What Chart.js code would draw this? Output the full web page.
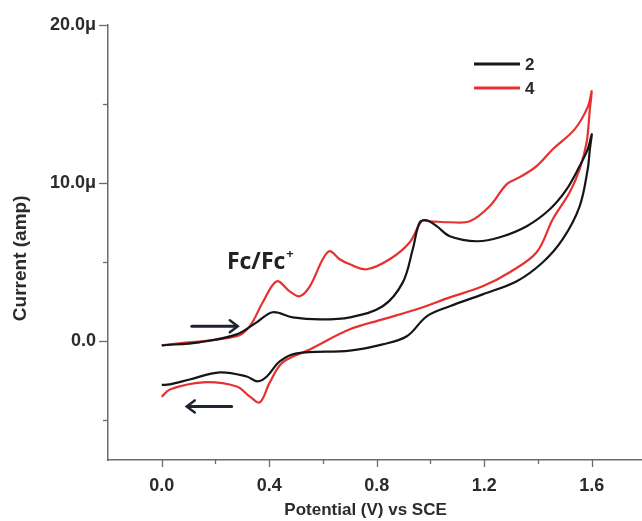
<!DOCTYPE html>
<html>
<head>
<meta charset="utf-8">
<script src="https://cdn.jsdelivr.net/npm/chart.js@4.4.1/dist/chart.umd.min.js"></script>
<style>
  html, body { margin: 0; padding: 0; background: #ffffff; }
  #wrap { width: 642px; height: 521px; }
</style>
</head>
<body>
<div id="wrap"><canvas id="c" width="642" height="521"></canvas></div>
<script>
// ---- Data (potential V vs SCE, current in µA) ----
const seriesLabels = ["2", "4"];
const seriesColors = ["#161616", "#e5312f"];

// Sample 2 (black): forward scan 0 -> 1.6 V, then reverse 1.6 -> 0 V
const scan2 = [
  [0.000,-0.25],[0.141,-0.06],[0.279,0.44],[0.353,1.20],[0.413,1.84],[0.487,1.52],
  [0.588,1.39],[0.700,1.52],[0.822,2.22],[0.897,3.73],[0.934,5.82],[0.960,7.53],
  [0.986,7.66],[1.023,7.28],[1.072,6.65],[1.172,6.33],[1.258,6.58],[1.358,7.28],
  [1.444,8.35],[1.507,9.62],[1.555,11.08],[1.585,12.15],[1.600,13.10],
  [1.593,12.15],[1.585,10.89],[1.555,8.54],[1.492,6.46],[1.418,5.00],[1.321,3.80],
  [1.194,2.97],[1.072,2.22],[0.986,1.58],[0.912,0.32],[0.822,-0.19],[0.700,-0.58],
  [0.502,-0.76],[0.439,-1.27],[0.391,-2.22],[0.357,-2.53],[0.316,-2.22],[0.216,-1.96],
  [0.104,-2.41],[0.030,-2.72],[0.000,-2.75]
];

// Sample 4 (red)
const scan4 = [
  [0.000,-0.25],[0.030,-0.19],[0.279,0.32],[0.327,0.95],[0.376,2.47],[0.428,3.80],
  [0.476,3.16],[0.513,2.85],[0.551,3.48],[0.599,5.19],[0.625,5.70],[0.662,5.19],
  [0.700,4.87],[0.763,4.56],[0.848,5.19],[0.923,6.27],[0.967,7.59],[0.997,7.59],
  [1.072,7.53],[1.146,7.59],[1.220,8.54],[1.284,9.94],[1.332,10.38],[1.395,11.08],
  [1.455,12.15],[1.537,13.42],[1.585,14.81],[1.600,15.82],
  [1.593,14.68],[1.581,12.59],[1.555,10.89],[1.518,9.43],[1.455,7.72],[1.395,5.63],
  [1.295,4.37],[1.194,3.48],[1.072,2.78],[0.949,2.03],[0.822,1.39],[0.700,0.76],
  [0.551,-0.51],[0.450,-1.33],[0.402,-2.59],[0.365,-3.86],[0.327,-3.48],[0.279,-2.85],
  [0.153,-2.59],[0.030,-3.04],[0.000,-3.50]
];

// Axis ticks
const xMajorTicks = [0.0, 0.4, 0.8, 1.2, 1.6];
const xMinorTicks = [0.2, 0.6, 1.0, 1.4];
const yMajorTicks = [0, 10, 20];
const yMinorTicks = [-5, 5, 15];
const xRange = [-0.2, 1.787];
const yRange = [-7.5, 20];

// Annotations: scan direction arrows [x0, x1, y] and peak label
const arrowForward = [0.112, 0.283, 0.95];
const arrowReverse = [0.260, 0.093, -4.11];
const peakLabel = { text: "Fc/Fc", sup: "+", x: 0.365, y: 5.0 };

// ---- Chart ----
const AXIS_COLOR = "#6b6b6b";
const TEXT_COLOR = "#2b2b2b";
const FONT = "'Liberation Sans', Arial, sans-serif";

const fmtY = v => (v === 0 ? "0.0" : v.toFixed(1) + "\u03bc");
const fmtX = v => v.toFixed(1);

const extras = {
  id: "extras",
  afterDraw(chart) {
    const ctx = chart.ctx;
    const xs = chart.scales.x, ys = chart.scales.y;
    ctx.save();
    // tick marks
    ctx.strokeStyle = AXIS_COLOR;
    ctx.lineWidth = 1.3;
    const drawXT = (v, len) => {
      const px = Math.round(xs.getPixelForValue(v)) + 0.5;
      ctx.beginPath(); ctx.moveTo(px, ys.bottom); ctx.lineTo(px, ys.bottom + len); ctx.stroke();
    };
    const drawYT = (v, len) => {
      const py = Math.round(ys.getPixelForValue(v)) + 0.5;
      ctx.beginPath(); ctx.moveTo(xs.left, py); ctx.lineTo(xs.left - len, py); ctx.stroke();
    };
    xMajorTicks.forEach(v => drawXT(v, 7));
    xMinorTicks.forEach(v => drawXT(v, 4));
    yMajorTicks.forEach(v => drawYT(v, 9));
    yMinorTicks.forEach(v => drawYT(v, 5));

    // arrows
    const drawArrow = (a) => {
      const x0 = xs.getPixelForValue(a[0]), x1 = xs.getPixelForValue(a[1]);
      const y = ys.getPixelForValue(a[2]);
      const dir = Math.sign(x1 - x0);
      ctx.strokeStyle = "#1d2533";
      ctx.lineWidth = 3;
      ctx.lineCap = "round";
      ctx.beginPath(); ctx.moveTo(x0, y); ctx.lineTo(x1 - dir * 2, y); ctx.stroke();
      ctx.lineWidth = 2.5;
      ctx.beginPath();
      ctx.moveTo(x1 - dir * 8, y - 6);
      ctx.lineTo(x1, y);
      ctx.lineTo(x1 - dir * 8, y + 6);
      ctx.stroke();
    };
    drawArrow(arrowForward);
    drawArrow(arrowReverse);

    // peak label
    const lx = xs.getPixelForValue(peakLabel.x), ly = ys.getPixelForValue(peakLabel.y);
    ctx.fillStyle = "#222";
    ctx.textBaseline = "middle";
    ctx.font = "bold 23px 'Open Sans', sans-serif";
    const w = ctx.measureText(peakLabel.text).width;
    ctx.font = "bold 13px 'Open Sans', sans-serif";
    const ws = ctx.measureText(peakLabel.sup).width;
    const startX = lx - (w + ws) / 2;
    ctx.textAlign = "left";
    ctx.font = "bold 23px 'Open Sans', sans-serif";
    ctx.fillText(peakLabel.text, startX, ly);
    ctx.font = "bold 13px 'Open Sans', sans-serif";
    ctx.fillText(peakLabel.sup, startX + w + 1, ly - 8);

    // legend
    chart.data.datasets.forEach((ds, i) => {
      const yy = 64 + i * 24;
      ctx.strokeStyle = ds.borderColor;
      ctx.lineWidth = 3;
      ctx.lineCap = "butt";
      ctx.beginPath(); ctx.moveTo(474, yy); ctx.lineTo(520, yy); ctx.stroke();
      ctx.fillStyle = TEXT_COLOR;
      ctx.font = "bold 17px " + FONT;
      ctx.textAlign = "left";
      ctx.textBaseline = "middle";
      ctx.fillText(ds.label, 525, yy + 1);
    });
    ctx.restore();
  }
};

new Chart(document.getElementById("c"), {
  type: "scatter",
  data: {
    datasets: [scan2, scan4].map((s, i) => ({
      label: seriesLabels[i],
      data: s.map(p => ({ x: p[0], y: p[1] })),
      showLine: true,
      borderColor: seriesColors[i],
      backgroundColor: seriesColors[i],
      borderWidth: 2.2,
      pointRadius: 0,
      tension: 0.35
    }))
  },
  options: {
    responsive: false,
    animation: false,
    layout: { padding: { top: 25, right: 0, bottom: 0, left: 0 } },
    plugins: { legend: { display: false }, tooltip: { enabled: false } },
    scales: {
      x: {
        type: "linear",
        min: xRange[0], max: xRange[1],
        grid: { display: false },
        border: { display: true, color: AXIS_COLOR, width: 1.5 },
        afterBuildTicks: s => { s.ticks = xMajorTicks.map(v => ({ value: v })); },
        afterFit: s => { s.height = 61; },
        ticks: {
          callback: v => fmtX(v),
          color: TEXT_COLOR,
          font: { family: FONT, size: 18, weight: "bold" },
          padding: 7,
          maxRotation: 0,
          autoSkip: false
        },
        title: {
          display: true,
          text: "Potential (V) vs SCE    ",
          color: TEXT_COLOR,
          font: { family: FONT, size: 17, weight: "bold" },
          padding: { top: 0, bottom: 0 }
        }
      },
      y: {
        type: "linear",
        min: yRange[0], max: yRange[1],
        grid: { display: false },
        border: { display: true, color: AXIS_COLOR, width: 1.5 },
        afterBuildTicks: s => { s.ticks = yMajorTicks.map(v => ({ value: v })); },
        afterFit: s => { s.width = 108; },
        ticks: {
          callback: v => fmtY(v),
          color: TEXT_COLOR,
          font: { family: FONT, size: 18, weight: "bold" },
          padding: 4,
          autoSkip: false
        },
        title: {
          display: true,
          text: "Current (amp)      ",
          color: TEXT_COLOR,
          font: { family: FONT, size: 19, weight: "bold" },
          padding: { top: 9, bottom: 9 }
        }
      }
    }
  },
  plugins: [extras]
});
</script>
</body>
</html>
